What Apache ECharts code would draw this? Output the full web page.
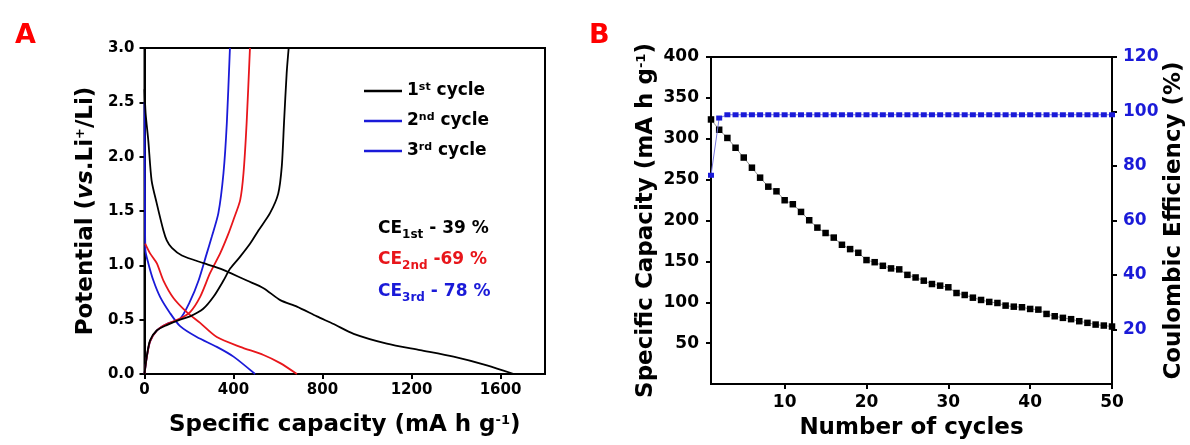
<!DOCTYPE html>
<html><head><meta charset="utf-8">
<script src="https://cdn.jsdelivr.net/npm/echarts@6/dist/echarts.min.js"></script>
<style>html,body{margin:0;padding:0;background:#fff}#c{width:1190px;height:445px}</style>
</head><body><div id="c"></div>
<script>
// ---------- Panel A: voltage profiles [capacity mA h g-1, potential V] ----------
const cycle1Discharge = [[0,2.62],[5,2.4],[17,2.15],[32,1.78],[55,1.57],[85,1.32],[100,1.23],[123,1.16],[168,1.09],[265,1.02],[340,0.97],[385,0.93],[460,0.86],[535,0.79],[610,0.68],[685,0.62],[775,0.53],[850,0.46],[940,0.37],[1089,0.28],[1239,0.22],[1389,0.16],[1539,0.08],[1660,0.0]];
const cycle1Charge = [[0,0],[10,0.16],[25,0.31],[55,0.40],[100,0.45],[160,0.50],[205,0.53],[264,0.60],[310,0.71],[355,0.86],[385,0.97],[430,1.08],[475,1.20],[512,1.32],[564,1.48],[601,1.66],[617,1.91],[627,2.31],[639,2.77],[648,3.0]];
const cycle2Discharge = [[3,1.2],[25,1.11],[55,1.02],[85,0.86],[130,0.70],[190,0.57],[250,0.47],[325,0.34],[430,0.25],[535,0.175],[610,0.10],[685,0.0]];
const cycle2Charge = [[0,0],[10,0.15],[25,0.30],[55,0.40],[100,0.46],[160,0.51],[205,0.57],[250,0.71],[295,0.93],[340,1.11],[375,1.28],[400,1.42],[430,1.60],[445,1.85],[459,2.31],[474,3.0]];
const cycle3Discharge = [[0,2.5],[2,1.6],[4,1.14],[17,1.02],[40,0.86],[70,0.71],[115,0.56],[160,0.44],[235,0.34],[325,0.25],[400,0.16],[497,0.0]];
const cycle3Charge = [[0,0],[10,0.15],[25,0.30],[55,0.40],[100,0.46],[160,0.51],[205,0.67],[243,0.86],[280,1.11],[302,1.26],[332,1.48],[355,1.85],[370,2.31],[384,3.0]];
const capTicksA = [0,400,800,1200,1600];
const potTicksA = [0,0.5,1.0,1.5,2.0,2.5,3.0];
const legendNames = ['1st cycle','2nd cycle','3rd cycle'];
const ceLabels = ['1st','2nd','3rd'];
const ceValues = ['- 39 %','-69 %','- 78 %'];

// ---------- Panel B: cycling ----------
const cycles = [1,2,3,4,5,6,7,8,9,10,11,12,13,14,15,16,17,18,19,20,21,22,23,24,25,26,27,28,29,30,31,32,33,34,35,36,37,38,39,40,41,42,43,44,45,46,47,48,49,50];
const specCapacity = [323.6,311,301,289,277,264.6,252.4,241.4,235.7,224.8,219.9,210.5,200.3,191.3,184.7,179.1,170.3,165,160.5,151.6,149,144.6,141.4,140.2,133.5,130.3,126.4,122.3,120.3,118.3,111.3,108.9,105.6,102.8,100.4,99.1,95.9,94.6,93.9,91.8,91,85.7,82.9,80.9,79.3,76.8,74.8,72.7,71.5,70.3];
const coulombicEff = [76.6,97.6,98.8,98.8,98.8,98.8,98.8,98.8,98.8,98.8,98.8,98.8,98.8,98.8,98.8,98.8,98.8,98.8,98.8,98.8,98.8,98.8,98.8,98.8,98.8,98.8,98.8,98.8,98.8,98.8,98.8,98.8,98.8,98.8,98.8,98.8,98.8,98.8,98.8,98.8,98.8,98.8,98.8,98.8,98.8,98.8,98.8,98.8,98.8,98.8];
const cycleTicks = [10,20,30,40,50];
const capTicksB = [50,100,150,200,250,300,350,400];
const ceTicks = [20,40,60,80,100,120];

const FONT = 'DejaVu Sans';
const BLACK = '#000000', RED = '#e8161b', BLUE = '#1a1ad8';
const supStyle = {fontFamily: FONT, fontWeight: 'bold', fontSize: 13, verticalAlign: 'top'};
const nameStyle = {fontFamily: FONT, fontWeight: 'bold', fontSize: 23, color: '#000',
  rich: {sup: supStyle, it: {fontFamily: FONT, fontWeight: 'bold', fontStyle: 'italic', fontSize: 23}}};
const axLine = {show: true, lineStyle: {color: '#000', width: 2}};
const tick = vals => ({show: true, inside: false, length: 5, lineStyle: {color: '#000', width: 2}, customValues: vals});
const lbl = (vals, size, color, margin, fmt) => ({customValues: vals, fontFamily: FONT, fontWeight: 'bold', fontSize: size, color: color, margin: margin, formatter: fmt});

function sup(s) { const m = s.match(/^(\d)(\w+)(.*)$/); return m[1] + '{sup|' + m[2] + '}' + m[3]; }

const chart = echarts.init(document.getElementById('c'), null, {renderer: 'canvas'});
const colorsA = [BLACK, RED, BLUE];
const dataA = [[cycle1Discharge, cycle1Charge], [cycle2Discharge, cycle2Charge], [cycle3Discharge, cycle3Charge]];
const seriesA = [];
dataA.forEach((pair, i) => pair.forEach(d => seriesA.push({
  type: 'line', name: legendNames[i], xAxisIndex: 0, yAxisIndex: 0, data: d,
  symbol: 'none', smooth: 0.25, lineStyle: {color: colorsA[i], width: 1.8}, itemStyle: {color: colorsA[i]}, z: 3 - i
})));

const ceTitleColors = [BLACK, RED, BLUE];
const ceTops = [212, 243, 275];
const ceTitles = ceLabels.map((s, i) => ({
  text: 'CE{sub|' + s + '} ' + ceValues[i], left: 373, top: ceTops[i],
  textStyle: {fontFamily: FONT, fontWeight: 'bold', fontSize: 17, color: ceTitleColors[i], lineHeight: 24,
    rich: {sub: {fontFamily: FONT, fontWeight: 'bold', fontSize: 12, color: ceTitleColors[i], verticalAlign: 'bottom'}}}
}));

chart.setOption({
  animation: false,
  backgroundColor: '#fff',
  title: [
    {text: 'A', left: 10, top: 17, textStyle: {fontFamily: FONT, fontWeight: 'bold', fontSize: 27, color: '#ff0000'}},
    {text: 'B', left: 584, top: 17, textStyle: {fontFamily: FONT, fontWeight: 'bold', fontSize: 27, color: '#ff0000'}}
  ].concat(ceTitles),
  legend: {
    orient: 'vertical', left: 359, top: 77, itemWidth: 38, itemHeight: 2.5, itemGap: 12, icon: 'rect',
    data: [
      {name: legendNames[0], itemStyle: {color: BLACK}},
      {name: legendNames[1], itemStyle: {color: BLUE}},
      {name: legendNames[2], itemStyle: {color: BLUE}}
    ],
    formatter: n => sup(n),
    textStyle: {fontFamily: FONT, fontWeight: 'bold', fontSize: 17, color: '#000', lineHeight: 18,
      rich: {sup: {fontFamily: FONT, fontWeight: 'bold', fontSize: 11, verticalAlign: 'top', color: '#000'}}}
  },
  grid: [
    {left: 144.5, top: 48, width: 400.5, height: 326, show: true, borderColor: '#000', borderWidth: 2},
    {left: 711, top: 57, width: 401, height: 328, show: true, borderColor: '#000', borderWidth: 2}
  ],
  xAxis: [
    {gridIndex: 0, type: 'value', min: 0, max: 1800, splitLine: {show: false}, axisLine: axLine,
     axisTick: tick(capTicksA), axisLabel: lbl(capTicksA, 15, '#000', 9, v => String(v)),
     name: 'Specific capacity (mA h g{sup|-1})', nameLocation: 'middle', nameGap: 40, nameTextStyle: nameStyle},
    {gridIndex: 1, type: 'value', min: 1, max: 50, splitLine: {show: false}, axisLine: axLine,
     axisTick: tick(cycleTicks), axisLabel: lbl(cycleTicks, 17, '#000', 10, v => String(v)),
     name: 'Number of cycles', nameLocation: 'middle', nameGap: 33, nameTextStyle: nameStyle}
  ],
  yAxis: [
    {gridIndex: 0, type: 'value', min: 0, max: 3, splitLine: {show: false}, axisLine: axLine,
     axisTick: tick(potTicksA), axisLabel: lbl(potTicksA, 15, '#000', 10, v => v.toFixed(1)),
     name: 'Potential ({it|vs}.Li{sup|+}/Li)', nameLocation: 'middle', nameGap: 47, nameTextStyle: nameStyle},
    {gridIndex: 1, type: 'value', min: 0, max: 400, position: 'left', splitLine: {show: false}, axisLine: axLine,
     axisTick: tick(capTicksB), axisLabel: lbl(capTicksB, 17, '#000', 12, v => String(v)),
     name: 'Specific Capacity (mA h g{sup|-1})', nameLocation: 'middle', nameGap: 53, nameTextStyle: nameStyle},
    {gridIndex: 1, type: 'value', min: 0, max: 120, position: 'right', splitLine: {show: false}, axisLine: axLine,
     axisTick: tick(ceTicks), axisLabel: lbl(ceTicks, 17, BLUE, 11, v => String(v)),
     name: 'Coulombic Efficiency (%)', nameLocation: 'middle', nameGap: 49, nameTextStyle: nameStyle}
  ],
  series: seriesA.concat([
    {type: 'line', name: 'Specific Capacity', xAxisIndex: 1, yAxisIndex: 1,
     data: cycles.map((c, i) => [c, specCapacity[i]]), symbol: 'rect', symbolSize: 6.5, showSymbol: true,
     lineStyle: {color: '#777', width: 0.8}, itemStyle: {color: '#000'}, z: 4},
    {type: 'line', name: 'Coulombic Efficiency', xAxisIndex: 1, yAxisIndex: 2,
     data: cycles.map((c, i) => [c, coulombicEff[i]]), symbol: 'rect', symbolSize: [6, 5], showSymbol: true,
     lineStyle: {color: '#7777dd', width: 1}, itemStyle: {color: BLUE}, z: 5}
  ])
});
</script></body></html>
